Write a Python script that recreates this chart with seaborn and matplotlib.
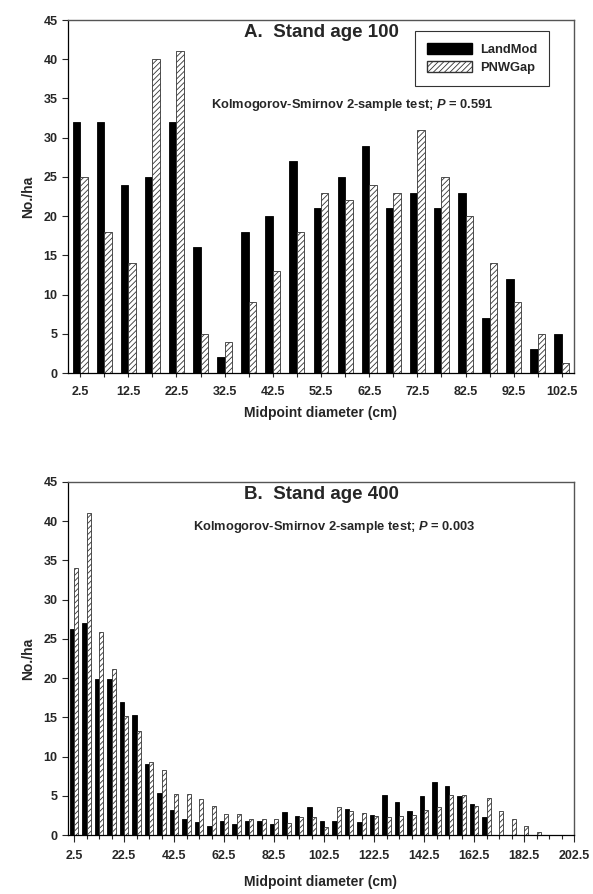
import numpy as np
import pandas as pd
import matplotlib
matplotlib.use("Agg")
import matplotlib.pyplot as plt
import seaborn as sns
from matplotlib.patches import Patch

sns.set_style("ticks")
plt.rcParams['font.family'] = ['Liberation Sans', 'DejaVu Sans']
plt.rcParams['hatch.linewidth'] = 0.6
plt.rcParams['mathtext.fontset'] = 'custom'
plt.rcParams['mathtext.it'] = 'Liberation Sans:italic:bold'
plt.rcParams['mathtext.rm'] = 'Liberation Sans:bold'

# ---- data ----
cats_a = [f"{2.5 + 5*i:.1f}" for i in range(21)]
landmod_a = [32, 32, 24, 25, 32, 16, 2, 18, 20, 27, 21, 25, 29, 21, 23, 21, 23, 7, 12, 3, 5]
pnwgap_a = [25, 18, 14, 40, 41, 5, 4, 9, 13, 18, 23, 22, 24, 23, 31, 25, 20, 14, 9, 5, 1.3]

cats_b = [f"{2.5 + 5*i:.1f}" for i in range(41)]
landmod_b = [26.2, 27.0, 19.9, 19.9, 16.9, 15.3, 9.0, 5.3, 3.2, 2.1, 1.7, 1.1, 1.8, 1.4,
             1.8, 1.8, 1.4, 2.9, 2.4, 3.6, 1.8, 1.8, 3.3, 1.6, 2.6, 5.1, 4.2, 3.1, 5.0,
             6.7, 6.2, 5.0, 4.0, 2.3, 0, 0, 0, 0, 0, 0, 0]
pnwgap_b = [34.1, 41.1, 25.9, 21.1, 15.2, 13.3, 9.3, 8.3, 5.2, 5.2, 4.6, 3.7, 2.7, 2.7,
            2.1, 2.1, 2.1, 1.5, 2.3, 2.3, 1.0, 3.6, 3.1, 2.8, 2.4, 2.3, 2.4, 2.6, 3.2,
            3.6, 5.1, 5.1, 3.7, 4.7, 3.1, 2.0, 1.15, 0.4, 0, 0, 0]

series = ["LandMod", "PNWGap"]
yticks = [0, 5, 10, 15, 20, 25, 30, 35, 40, 45]


def make_df(cats, lm, pg):
    return pd.DataFrame({
        "cat": cats * 2,
        "val": lm + pg,
        "model": [series[0]] * len(cats) + [series[1]] * len(cats),
    })


fig = plt.figure(figsize=(5.93, 8.94), dpi=100)
axA = fig.add_axes([68/593, 1 - 373/894, 506/593, 353/894])
axB = fig.add_axes([68/593, 1 - 835/894, 506/593, 353/894])


def draw(ax, cats, lm, pg, width, label_every, xlim, title, ks_y, ks_x, p,
         xlabelpad, major_len):
    df = make_df(cats, lm, pg)
    sns.barplot(data=df, x="cat", y="val", hue="model", order=cats,
                hue_order=series, palette=["black", "white"], width=width,
                edgecolor="black", linewidth=0.6, ax=ax, legend=False,
                saturation=1)
    for bar in ax.containers[1]:
        bar.set_hatch("//////")
        bar.set_facecolor("white")
        bar.set_edgecolor("#333333")
    ax.set_ylim(0, 45)
    ax.set_xlim(*xlim)
    ax.set_yticks(yticks)
    ax.set_yticklabels([str(t) for t in yticks], fontsize=9, fontweight="bold")
    n = len(cats)
    major = [i for i in range(n) if i % label_every == 0]
    ax.set_xticks(major)
    ax.set_xticklabels([cats[i] for i in major], fontsize=9, fontweight="bold")
    ax.set_xticks(range(n), minor=True)
    ax.tick_params(axis="x", which="major", length=major_len, width=0.8, pad=6)
    ax.tick_params(axis="x", which="minor", length=3, width=0.8)
    ax.tick_params(axis="y", length=4, width=0.8)
    ax.set_xlabel("Midpoint diameter (cm)", fontsize=10, fontweight="bold",
                  labelpad=xlabelpad)
    ax.set_ylabel("No./ha", fontsize=10, fontweight="bold", labelpad=6)
    for s in ["left", "bottom"]:
        ax.spines[s].set_color("black")
        ax.spines[s].set_linewidth(0.9)
    for s in ["top", "right"]:
        ax.spines[s].set_color("#555555")
        ax.spines[s].set_linewidth(1.0)
    ax.text(0.5, 0.99, title, transform=ax.transAxes, ha="center", va="top",
            fontsize=13.5, fontweight="bold")
    ax.text(ks_x, ks_y, "Kolmogorov-Smirnov 2-sample test; $\\mathit{P}$ = " + p,
            transform=ax.transAxes, ha="center", va="center", fontsize=9.3,
            fontweight="bold")


draw(axA, cats_a, landmod_a, pnwgap_a, 0.62, 2, (-0.5, 20.5),
     "A.  Stand age 100", 0.758, 0.562, "0.591", 6, 3)
draw(axB, cats_b, landmod_b, pnwgap_b, 0.68, 4, (-0.5, 40.0),
     "B.  Stand age 400", 0.873, 0.526, "0.003", 9, 5)

handles = [Patch(facecolor="black", edgecolor="black", label="LandMod"),
           Patch(facecolor="white", edgecolor="#333333", hatch="//////", label="PNWGap")]
leg = axA.legend(handles=handles, loc="upper right", bbox_to_anchor=(0.958, 0.98),
                 frameon=True, fancybox=False, edgecolor="black",
                 prop={"weight": "bold", "size": 9.3}, handlelength=3.5,
                 handleheight=1.0, borderpad=0.9, labelspacing=0.4,
                 handletextpad=0.6, borderaxespad=0.3)
leg.get_frame().set_linewidth(0.8)

fig.savefig("out.png", dpi=100)
